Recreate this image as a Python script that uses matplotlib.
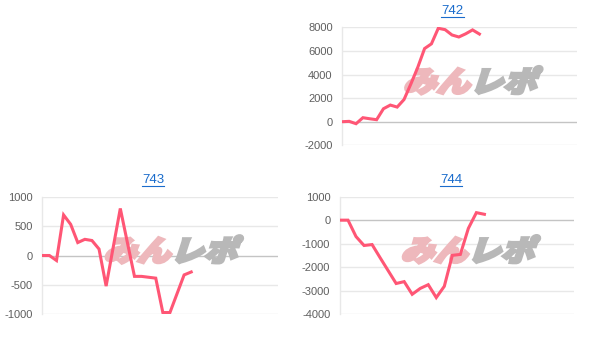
import matplotlib
matplotlib.use('Agg')
import matplotlib.pyplot as plt
import numpy as np
from matplotlib.textpath import TextPath
from matplotlib.patches import PathPatch
from matplotlib.font_manager import FontProperties
from matplotlib.transforms import Affine2D
from matplotlib.lines import Line2D

# データ
titles = ['742', '743', '744']
vals_742 = [0, 30, -170, 340, 250, 170, 1100, 1410, 1240, 1880, 3200, 4600,
            6200, 6600, 7920, 7800, 7350, 7180, 7450, 7780, 7430]
vals_743 = [0, 0, -85, 690, 530, 220, 275, 255, 110, -520, 140, 800,
            220, -355, -355, -370, -385, -970, -970, -650, -330, -280]
vals_744 = [0, 0, -700, -1080, -1040, -1600, -2150, -2700, -2620, -3160,
            -2910, -2750, -3300, -2820, -1500, -1460, -350, 320, 250]
yticks_742 = [-2000, 0, 2000, 4000, 6000, 8000]
yticks_743 = [-1000, -500, 0, 500, 1000]
yticks_744 = [-4000, -3000, -2000, -1000, 0, 1000]

LINE_C = '#ff5675'
GRID_C = '#e8e8e8'
ZERO_C = '#c4c4c4'
TICK_C = '#5f5f5f'
LINK_C = '#1a6ccc'

fig = plt.figure(figsize=(6.07, 3.44), dpi=100)

# 各パネル: (タイトル, 値, 目盛, x最大, 軸位置, タイトル位置)
panels = [
    (titles[0], vals_742, yticks_742, 34.2, [0.5640, 0.5776, 0.3861, 0.3430], 452.5 / 607, 1 - 11 / 344),
    (titles[1], vals_743, yticks_743, 33.2, [0.0697, 0.0863, 0.3878, 0.3419], 153.0 / 607, 1 - 180 / 344),
    (titles[2], vals_744, yticks_744, 29.2, [0.5601, 0.0872, 0.3860, 0.3410], 451.0 / 607, 1 - 180 / 344),
]

fp_wm = FontProperties(family='Noto Sans CJK JP', weight='heavy')


def watermark(ax):
    # 「みんレポ」風の透かし（斜体化したテキストパス）
    p1 = TextPath((0, 0), 'みん', size=29, prop=fp_wm)
    p2 = TextPath((0, 0), 'レポ', size=29, prop=fp_wm)
    sx = 1.15
    w1 = p1.get_extents().x1 * sx
    w2 = p2.get_extents().x1 * sx
    gap = 1
    total = w1 + gap + w2
    cx, cy = ax.transAxes.transform((0.54, 0.555))
    t1 = Affine2D().scale(sx, 1).skew_deg(18, 0) + Affine2D().translate(cx - total / 2, cy - 12)
    t2 = Affine2D().scale(sx, 1).skew_deg(18, 0) + Affine2D().translate(cx - total / 2 + w1 + gap, cy - 12)
    ax.add_artist(PathPatch(p1, transform=t1, facecolor='#eeb8bc', edgecolor='#eeb8bc',
                            lw=2.2, zorder=1))
    ax.add_artist(PathPatch(p2, transform=t2, facecolor='#b8b8b8', edgecolor='#b8b8b8',
                            lw=2.2, zorder=1))


for title, vals, yt, xmax, pos, tx, ty in panels:
    ax = fig.add_axes(pos)
    x = np.arange(len(vals))
    ax.plot(x, vals, color=LINE_C, lw=2.2, zorder=3, solid_joinstyle='miter')
    ax.set_xlim(0, xmax)
    ax.set_ylim(yt[0], yt[-1])
    ax.set_yticks(yt)
    ax.set_yticklabels([str(v) for v in yt])
    ax.set_xticks([])
    for v in yt:
        ax.axhline(v, color=ZERO_C if v == 0 else GRID_C, lw=1, zorder=0.5)
    for s in ['top', 'right', 'bottom']:
        ax.spines[s].set_visible(False)
    ax.spines['left'].set_color(GRID_C)
    ax.spines['left'].set_linewidth(1)
    ax.tick_params(axis='y', length=0, pad=7, labelsize=8, labelcolor=TICK_C)
    for lb in ax.get_yticklabels():
        lb.set_family('Liberation Sans')
    ax.patch.set_alpha(0)
    watermark(ax)

    # タイトル（下線付きリンク風）
    fig.text(tx, ty, title, ha='center', va='center', fontsize=9.5, color=LINK_C,
             family='Liberation Sans')

fig.canvas.draw()
r = fig.canvas.get_renderer()
for t in list(fig.texts):
    bb = t.get_window_extent(r)
    y0 = (bb.y0 + 0.5) / fig.bbox.height
    fig.add_artist(Line2D([bb.x0 / fig.bbox.width, bb.x1 / fig.bbox.width], [y0, y0],
                          transform=fig.transFigure, color=LINK_C, lw=0.8))

fig.savefig('out.png', dpi=100)
